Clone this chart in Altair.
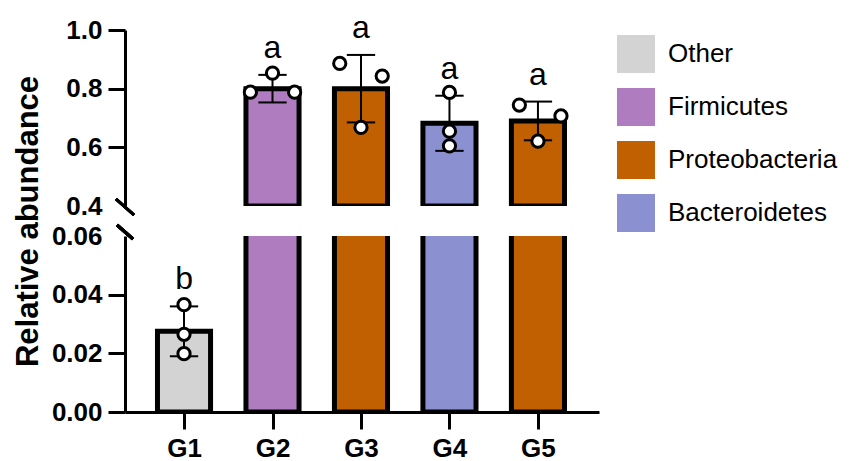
import altair as alt
import pandas as pd

# ---------------- data ----------------
groups = ["G1", "G2", "G3", "G4", "G5"]
phylum = ["Other", "Firmicutes", "Proteobacteria", "Bacteroidetes", "Proteobacteria"]
means = [0.0275, 0.800, 0.800, 0.682, 0.690]
sds = [0.0085, 0.047, 0.115, 0.094, 0.066]
letters = ["b", "a", "a", "a", "a"]

pt_group = ["G1", "G1", "G1", "G2", "G2", "G2", "G3", "G3", "G3",
            "G4", "G4", "G4", "G5", "G5", "G5"]
pt_jitter = [0, 0, 0, -0.25, 0, 0.25, -0.24, 0, 0.24,
             0, 0, 0, -0.21, 0.26, 0]
pt_value = [0.0366, 0.0265, 0.0199, 0.788, 0.853, 0.788, 0.886, 0.668, 0.843,
            0.787, 0.655, 0.605, 0.744, 0.707, 0.621]

legend_names = ["Other", "Firmicutes", "Proteobacteria", "Bacteroidetes"]
legend_colors = ["#d3d3d3", "#b07cc0", "#c06000", "#8b90d0"]

top_ticks = [0.4, 0.6, 0.8, 1.0]
bottom_ticks = [0.0, 0.02, 0.04, 0.06]

# ---------------- tables ----------------
pos_of = {g: i + 1 for i, g in enumerate(groups)}
bars_df = pd.DataFrame({"group": groups, "phylum": phylum, "mean": means,
                        "sd": sds, "letter": letters})
bars_df["pos"] = bars_df["group"].map(pos_of)
pts_df = pd.DataFrame({"group": pt_group, "jitter": pt_jitter, "value": pt_value})
pts_df["pos"] = pts_df["group"].map(pos_of) + pts_df["jitter"]

FONT = "Liberation Sans"
W = 474
HT = 176
HB = 176
GAP = 30
xscale = alt.Scale(domain=[0.333, 5.69], nice=False, zero=False)
color = alt.Color("phylum:N",
                  scale=alt.Scale(domain=legend_names, range=legend_colors),
                  legend=alt.Legend(title=None))
label_expr = "[" + ",".join("'%s'" % g for g in groups) + "][datum.value - 1]"


def panel(lo, hi, ticks, fmt, height, hidden_tick, bottom, title):
    ysc = alt.Scale(domain=[lo, hi], nice=False, zero=False)
    axis_kw = dict(values=ticks, format=fmt, labelPadding=6,
                   tickOpacity={"condition": {"test": "datum.value == %s" % hidden_tick,
                                              "value": 0}, "value": 1})
    if title:
        axis_kw.update(title=title, titleX=-88, titleY=(HT + GAP + HB) / 2,
                       titleBaseline="alphabetic", titleAlign="center", titleAngle=270)
    else:
        axis_kw.update(title=None)
    yaxis = alt.Axis(**axis_kw)
    if bottom:
        xaxis = alt.Axis(values=[1, 2, 3, 4, 5], labelExpr=label_expr, title=None,
                         labelPadding=6)
        keep = "datum.mean < %s" % hi
    else:
        xaxis = None
        keep = "datum.mean > %s" % lo

    base = alt.Chart(bars_df)

    bar = base.transform_filter("datum.mean > %s" % lo).transform_calculate(
        xl="datum.pos - 0.3", xr="datum.pos + 0.3"
    ).mark_rect(stroke="black", strokeWidth=5, clip=True).encode(
        x=alt.X("xl:Q", scale=xscale, axis=xaxis),
        x2="xr:Q",
        y=alt.Y("mean:Q", scale=ysc, axis=yaxis),
        y2=alt.datum(lo),
        color=color,
    )

    err = base.transform_filter(keep).transform_calculate(
        elo="datum.mean - datum.sd", ehi="datum.mean + datum.sd"
    )
    stem = err.mark_rule(color="black", strokeWidth=2).encode(
        x=alt.X("pos:Q", scale=xscale), y=alt.Y("elo:Q", scale=ysc), y2="ehi:Q")
    caps = err.transform_fold(["elo", "ehi"], as_=["end", "cap"]).transform_calculate(
        cl="datum.pos - 0.16", cr="datum.pos + 0.16"
    ).mark_rule(color="black", strokeWidth=2).encode(
        x=alt.X("cl:Q", scale=xscale), x2="cr:Q", y=alt.Y("cap:Q", scale=ysc))
    text = err.mark_text(font=FONT, fontSize=32, dy=-27, color="black",
                         baseline="middle").encode(
        x=alt.X("pos:Q", scale=xscale), y=alt.Y("ehi:Q", scale=ysc), text="letter:N")

    pts = alt.Chart(pts_df).transform_filter(
        "datum.value >= %s && datum.value <= %s" % (lo, hi)
    ).mark_point(shape="circle", fill="white", fillOpacity=1, stroke="black",
                 strokeWidth=3, size=150, opacity=1).encode(
        x=alt.X("pos:Q", scale=xscale), y=alt.Y("value:Q", scale=ysc))

    if bottom:
        brk = alt.Chart(bars_df).mark_rule(color="black", strokeWidth=3).encode(
            x=alt.value(-8), x2=alt.value(8), y=alt.value(-11), y2=alt.value(3))
    else:
        brk = alt.Chart(bars_df).mark_rule(color="black", strokeWidth=3).encode(
            x=alt.value(-9), x2=alt.value(9), y=alt.value(height - 7), y2=alt.value(height + 9))

    return alt.layer(bar, stem, caps, pts, text, brk).properties(width=W, height=height)


top = panel(0.4, 1.0, top_ticks, ".1f", HT, 0.4, False, "Relative abundance")
bot = panel(0.0, 0.06, bottom_ticks, ".2f", HB, 0.06, True, None)

chart = alt.vconcat(top, bot, spacing=GAP, bounds="flush").resolve_scale(
    y="independent", color="shared"
).properties(
    padding={"top": 3, "left": 4, "right": 0, "bottom": 0}
).configure_view(stroke=None).configure_axis(
    domainColor="black", domainWidth=3, tickColor="black", tickWidth=3, tickSize=17,
    labelFont=FONT, labelFontSize=26, labelFontWeight="bold", labelColor="black",
    grid=False, titleFont=FONT, titleFontWeight="bold", titleFontSize=31,
    titleColor="black",
).configure_legend(
    orient="right", offset=13, symbolType="square", symbolSize=1444,
    symbolStrokeWidth=0, labelFontSize=26, labelFont=FONT, labelColor="black",
    rowPadding=15, labelOffset=13, padding=5, titlePadding=0, labelLimit=400,
)

chart.save("out.html", embed_options={"renderer": "svg", "actions": False})
